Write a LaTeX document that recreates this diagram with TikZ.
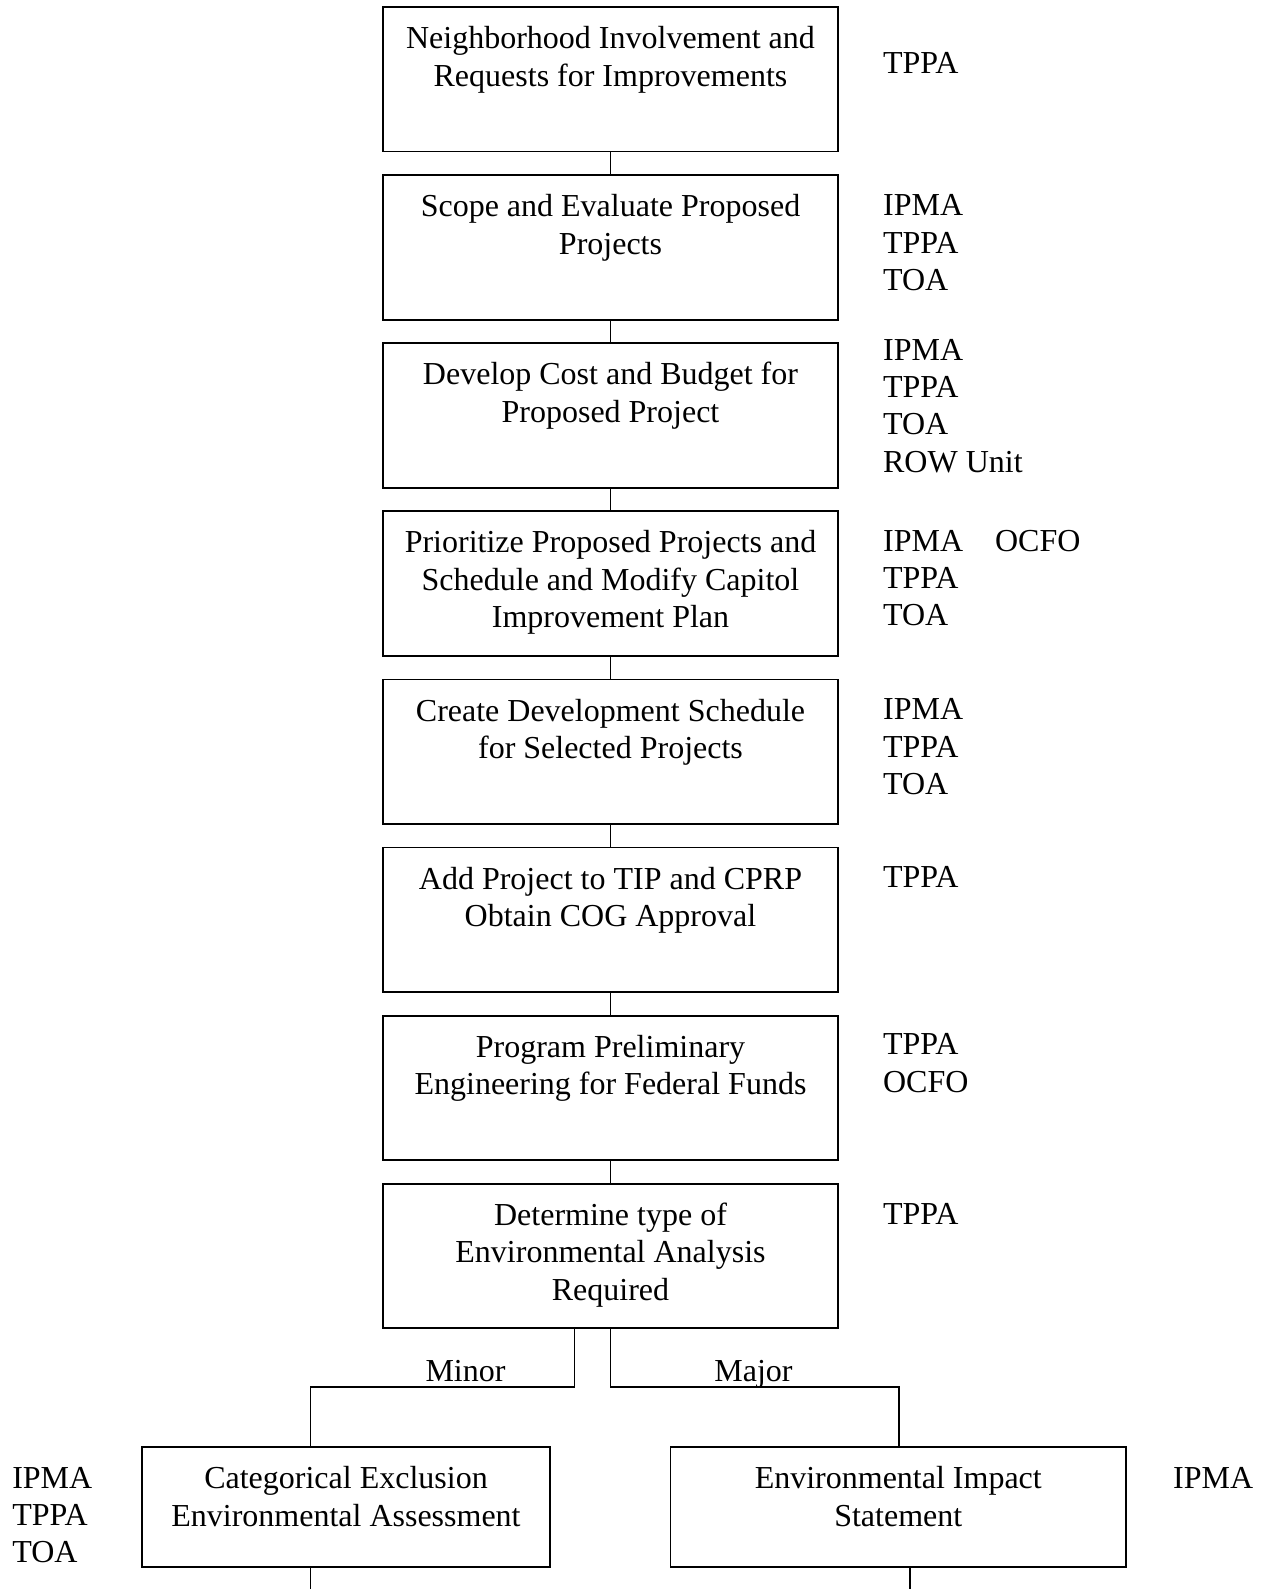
\documentclass[tikz,border=0pt]{standalone}
\usepackage{fontspec}
\setmainfont{Liberation Serif}
\begin{document}
\begin{tikzpicture}[x=1pt,y=-1pt,
  stepbox/.style={draw, line width=1.8pt, minimum width=455pt, minimum height=144.5pt, inner sep=0pt},
  endbox/.style={draw, line width=1.8pt, minimum height=120pt, inner sep=0pt},
  boxtext/.style={font=\fontsize{32}{37.5}\selectfont, align=center, inner sep=0pt, anchor=north},
  roles/.style={font=\fontsize{32}{37.3}\selectfont, align=left, inner sep=0pt, anchor=north west},
  branch/.style={font=\fontsize{32}{37}\selectfont, inner sep=0pt, anchor=base},
  link/.style={line width=1.8pt}]
\useasboundingbox (0,0) rectangle (1261,1589);

% main column of steps
\node[stepbox] (b1) at (610.5,79.3) {};
\node[stepbox] (b2) at (610.5,247.4) {};
\node[stepbox] (b3) at (610.5,415.5) {};
\node[stepbox] (b4) at (610.5,583.6) {};
\node[stepbox] (b5) at (610.5,751.7) {};
\node[stepbox] (b6) at (610.5,919.8) {};
\node[stepbox] (b7) at (610.5,1087.9) {};
\node[stepbox] (b8) at (610.5,1256.0) {};

% the two environmental outcomes
\node[endbox, minimum width=408pt] (cx) at (346,1507) {};
\node[endbox, minimum width=455.5pt] (ce) at (898.25,1507) {};

% step texts, top aligned inside the boxes
\node[boxtext] (t1) at ([yshift=-16pt]b1.north) {\strut Neighborhood Involvement and\\Requests for Improvements};
\node[boxtext] (t2) at ([yshift=-16pt]b2.north) {\strut Scope and Evaluate Proposed\\Projects};
\node[boxtext] (t3) at ([yshift=-16pt]b3.north) {\strut Develop Cost and Budget for\\Proposed Project};
\node[boxtext] (t4) at ([yshift=-16pt]b4.north) {\strut Prioritize Proposed Projects and\\Schedule and Modify Capitol\\Improvement Plan};
\node[boxtext] (t5) at ([yshift=-16pt]b5.north) {\strut Create Development Schedule\\for Selected Projects};
\node[boxtext] (t6) at ([yshift=-16pt]b6.north) {\strut Add Project to TIP and CPRP\\Obtain COG Approval};
\node[boxtext] (t7) at ([yshift=-16pt]b7.north) {\strut Program Preliminary\\Engineering for Federal Funds};
\node[boxtext] (t8) at ([yshift=-16pt]b8.north) {\strut Determine type of\\Environmental Analysis\\Required};
\node[boxtext] (tcx) at ([yshift=-16pt]cx.north) {\strut Categorical Exclusion\\Environmental Assessment};
\node[boxtext] (tce) at ([yshift=-16pt]ce.north) {\strut Environmental Impact\\Statement};

% responsible units
\node[roles] (r1) at ([xshift=44pt,yshift=-41.4pt]b1.north east) {\strut TPPA};
\node[roles] (r2) at ([xshift=44pt,yshift=-15.3pt]b2.north east) {\strut IPMA\\TPPA\\TOA};
\node[roles] (r3) at ([xshift=44pt,yshift=8.3pt]b3.north east) {\strut IPMA\\TPPA\\TOA\\ROW Unit};
\node[roles] (r4) at ([xshift=44pt,yshift=-14.6pt]b4.north east) {\strut IPMA\\TPPA\\TOA};
\node[roles] (r4b) at ([xshift=112pt]r4.north west) {\strut OCFO};
\node[roles] (r5) at ([xshift=44pt,yshift=-15.0pt]b5.north east) {\strut IPMA\\TPPA\\TOA};
\node[roles] (r6) at ([xshift=44pt,yshift=-14.9pt]b6.north east) {\strut TPPA};
\node[roles] (r7) at ([xshift=44pt,yshift=-13.8pt]b7.north east) {\strut TPPA\\OCFO};
\node[roles] (r8) at ([xshift=44pt,yshift=-15.2pt]b8.north east) {\strut TPPA};
\node[roles] (rcx) at ([xshift=-129pt,yshift=-15.9pt]cx.north west) {\strut IPMA\\TPPA\\TOA};
\node[roles] (rce) at ([xshift=46pt,yshift=-15.9pt]ce.north east) {\strut IPMA};

% connectors down the column
\foreach \a/\b in {b1/b2,b2/b3,b3/b4,b4/b5,b5/b6,b6/b7,b7/b8}
  \draw[link] (\a.south) -- (\b.north);

% minor / major branches
\coordinate (kL) at (310.5,1387);
\coordinate (kR) at (899,1387);
\draw[link] ([xshift=-36pt]b8.south) |- (kL) -- (kL |- cx.north);
\draw[link] (b8.south) |- (kR) -- (kR |- ce.north);
\node[branch] (minor) at (465.5,1381) {Minor};
\node[branch] (major) at (753.5,1381) {Major};

% continuing lines below the outcomes
\coordinate (endL) at (310.5,1589);
\coordinate (endR) at (910,1589);
\draw[link] (cx.south -| endL) -- (endL);
\draw[link] (ce.south -| endR) -- (endR);
\end{tikzpicture}
\end{document}
